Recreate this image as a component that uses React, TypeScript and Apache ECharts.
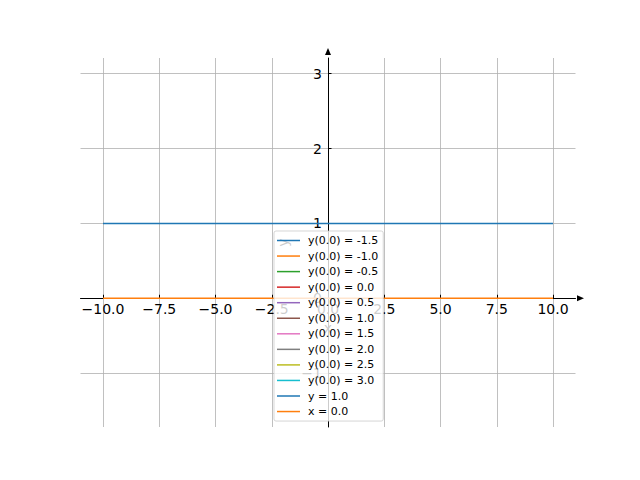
import React, { useEffect, useRef } from "react";
import * as echarts from "echarts";

const xTicks = [-10, -7.5, -5, -2.5, 0, 2.5, 5, 7.5, 10];
const yTicks = [-1, 0, 1, 2, 3];
const xRange = [-11, 11];
const yRange = [-1.72, 3.21];

const emptyNames = [
  "y(0.0) = -1.5",
  "y(0.0) = -1.0",
  "y(0.0) = -0.5",
  "y(0.0) = 0.0",
  "y(0.0) = 0.5",
  "y(0.0) = 1.0",
  "y(0.0) = 1.5",
  "y(0.0) = 2.0",
  "y(0.0) = 2.5",
  "y(0.0) = 3.0",
];
const lineY1 = [
  [-10, 1],
  [10, 1],
];
const lineX0 = [
  [-10, 0],
  [10, 0],
];
const colors = [
  "#1f77b4",
  "#ff7f0e",
  "#2ca02c",
  "#d62728",
  "#9467bd",
  "#8c564b",
  "#e377c2",
  "#7f7f7f",
  "#bcbd22",
  "#17becf",
  "#1f77b4",
  "#ff7f0e",
];

const minus = (s: string) => s.replace("-", "\u2212");
const font = "DejaVu Sans";

const GRID_LEFT = 80.5;
const GRID_TOP = 58;
const GRID_W = 495;
const GRID_H = 369;

export default function App() {
  const ref = useRef<HTMLDivElement>(null);
  useEffect(() => {
    if (!ref.current) return;
    const chart = echarts.init(ref.current, undefined, { renderer: "svg" });
    const names = [...emptyNames, "y = 1.0", "x = 0.0"];
    const x0px = GRID_LEFT + ((0 - xRange[0]) / (xRange[1] - xRange[0])) * GRID_W;
    const y0px = GRID_TOP + ((yRange[1] - 0) / (yRange[1] - yRange[0])) * GRID_H;
    const xOffset = -(GRID_TOP + GRID_H - y0px);
    const yOffset = -(x0px - GRID_LEFT);
    const series: any[] = [
      {
        name: "__grid",
        type: "line",
        data: [],
        z: 1,
        silent: true,
        markLine: {
          z: 1,
          silent: true,
          symbol: ["none", "none"],
          label: { show: false },
          animation: false,
          lineStyle: { color: "#b0b0b0", width: 0.8, type: "solid" },
          data: [
            ...xTicks.filter((v) => v !== 0).map((v) => ({ xAxis: v })),
            ...yTicks.filter((v) => v !== 0).map((v) => ({ yAxis: v })),
          ],
        },
      },
      ...emptyNames.map((n, i) => ({
        name: n,
        type: "line",
        data: [],
        showSymbol: false,
        symbol: "none",
        z: 3,
        lineStyle: { width: 1.5, color: colors[i] },
        itemStyle: { color: colors[i] },
      })),
      {
        name: "y = 1.0",
        type: "line",
        data: lineY1,
        symbol: "none",
        z: 3,
        lineStyle: { width: 1.5, color: colors[10] },
        itemStyle: { color: colors[10] },
      },
      {
        name: "x = 0.0",
        type: "line",
        data: lineX0,
        symbol: "none",
        z: 3,
        lineStyle: { width: 1.5, color: colors[11] },
        itemStyle: { color: colors[11] },
      },
    ];
    chart.setOption({
      animation: false,
      grid: { left: GRID_LEFT, top: GRID_TOP, width: GRID_W, height: GRID_H, containLabel: false },
      xAxis: {
        type: "value",
        min: xRange[0],
        max: xRange[1],
        z: 2,
        offset: xOffset,
        name: "x",
        nameLocation: "middle",
        nameGap: 20,
        nameTextStyle: { fontFamily: font, fontSize: 14, color: "#000" },
        axisLine: {
          onZero: false,
          lineStyle: { color: "#000", width: 1 },
          symbol: ["none", "triangle"],
          symbolSize: [6, 7],
          symbolOffset: [0, 5],
        },
        axisTick: { inside: true, length: 3.5, customValues: xTicks, lineStyle: { color: "#000" } },
        axisLabel: {
          customValues: xTicks,
          margin: 4,
          fontFamily: font,
          fontSize: 14,
          color: "#000",
          formatter: (v: number) => minus(v.toFixed(1)),
        },
        splitLine: { show: false },
      },
      yAxis: {
        type: "value",
        min: yRange[0],
        max: yRange[1],
        z: 2,
        offset: yOffset,
        name: "y",
        nameLocation: "middle",
        nameGap: 33,
        nameRotate: 90,
        nameTextStyle: { fontFamily: font, fontSize: 14, color: "#000" },
        axisLine: {
          onZero: false,
          lineStyle: { color: "#000", width: 1 },
          symbol: ["none", "triangle"],
          symbolSize: [6, 7],
          symbolOffset: [0, 6.5],
        },
        axisTick: { inside: true, length: 3.5, customValues: yTicks, lineStyle: { color: "#000" } },
        axisLabel: {
          customValues: yTicks,
          margin: 6,
          fontFamily: font,
          fontSize: 14,
          color: "#000",
          formatter: (v: number) => minus(String(v)),
        },
        splitLine: { show: false },
      },
      legend: {
        data: names,
        orient: "vertical",
        left: 274,
        top: 231,
        padding: [4, 5, 4, 3],
        icon: "rect",
        itemWidth: 23,
        itemHeight: 1.5,
        itemGap: 4.55,
        backgroundColor: "rgba(255,255,255,0.8)",
        borderColor: "rgba(204,204,204,0.8)",
        borderWidth: 1,
        borderRadius: 2,
        selectedMode: false,
        textStyle: {
          fontFamily: font,
          fontSize: 11,
          lineHeight: 11,
          color: "#000",
          padding: [0, 0, 0, 3],
        },
      },
      series,
    });
    return () => chart.dispose();
  }, []);
  return (
    <div
      ref={ref}
      style={{ position: "fixed", left: 0, top: 0, width: 640, height: 480, background: "#fff" }}
    />
  );
}
